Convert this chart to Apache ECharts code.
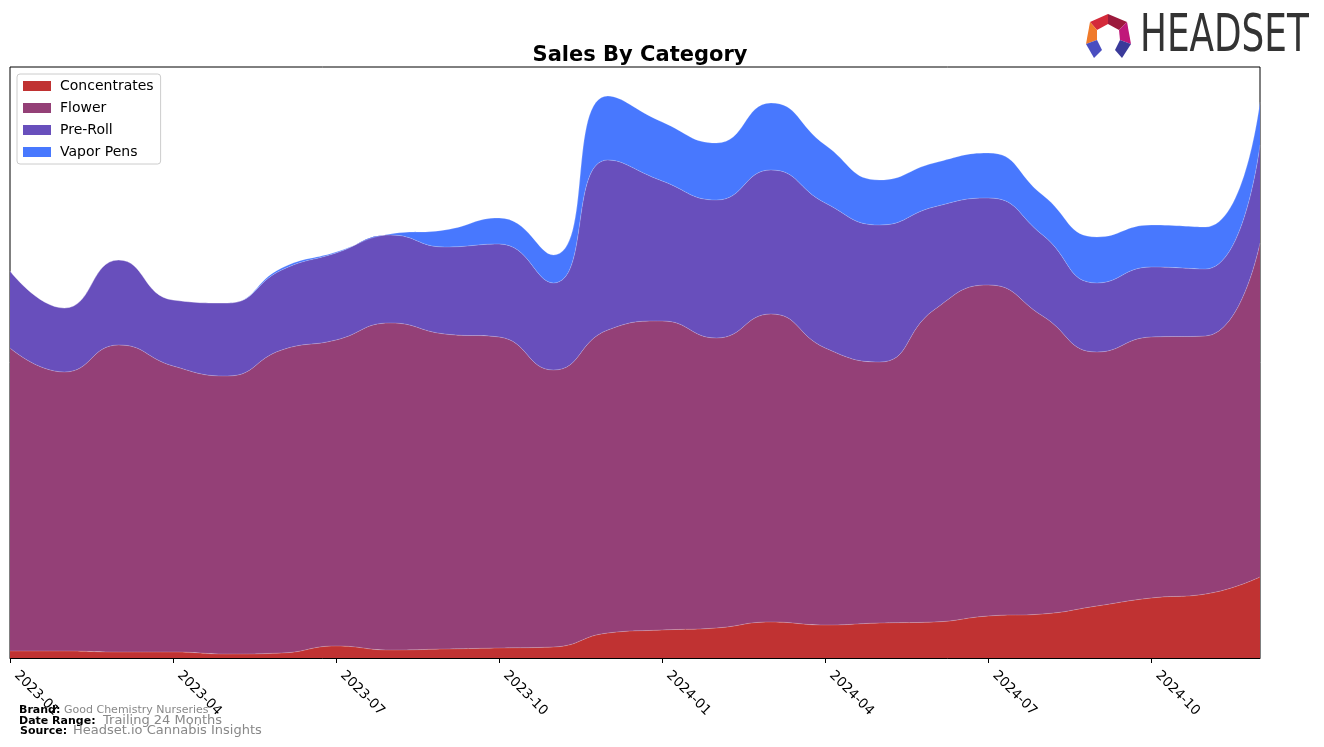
<!DOCTYPE html>
<html>
<head>
<meta charset="utf-8">
<script src="https://cdn.jsdelivr.net/npm/echarts@6/dist/echarts.min.js"></script>
<style>html,body{margin:0;padding:0;background:#fff;}#c{width:1324px;height:747px;}</style>
</head>
<body>
<div id="c"></div>
<script>
const months = ['2023-01','2023-02','2023-03','2023-04','2023-05','2023-06','2023-07','2023-08','2023-09','2023-10','2023-11','2023-12',
                '2024-01','2024-02','2024-03','2024-04','2024-05','2024-06','2024-07','2024-08','2024-09','2024-10','2024-11','2024-12'];
const concentrates = [7,7,6,6,4,5,12,8,9,10,11,25,28,30,36,33,35,36,42,44,52,60,64,81];
const flower       = [303,279,307,286,278,303,306,327,315,311,277,303,309,290,308,277,261,312,331,298,254,261,258,334];
const preRoll      = [77,64,85,66,73,80,87,88,87,93,87,170,140,138,144,145,137,103,87,81,69,70,67,98];
const vaporPens    = [0,0,0,0,0,2,1,1,17,26,28,64,59,57,67,58,45,44,45,40,46,42,42,43];
const seriesNames  = ['Concentrates','Flower','Pre-Roll','Vapor Pens'];
const seriesColors = ['#c03232','#944077','#684fbc','#4878fe'];
const tickStep = 3;

const chart = echarts.init(document.getElementById('c'), null, {renderer:'canvas'});
const allData = [concentrates, flower, preRoll, vaporPens];
const series = allData.map((arr, k) => ({
  name: seriesNames[k],
  type: 'line',
  stack: 'total',
  smooth: 0.5,
  showSymbol: false,
  symbol: 'none',
  lineStyle: {width: 0.8, color: 'rgba(255,255,255,0.25)'},
  itemStyle: {color: seriesColors[k]},
  areaStyle: {color: seriesColors[k], opacity: 1},
  data: arr
}));

const FONT = 'DejaVu Sans';
chart.setOption({
  animation: false,
  backgroundColor: '#fff',
  title: {
    text: 'Sales By Category', left: 635, top: 40, textAlign: 'center',
    textStyle: {fontFamily: FONT, fontSize: 21, fontWeight: 'bold', color: '#000'}
  },
  legend: {
    orient: 'vertical', left: 17, top: 74,
    data: seriesNames,
    icon: 'rect', itemWidth: 28, itemHeight: 10, itemGap: 8,
    padding: [5, 7, 5, 6],
    borderColor: '#cccccc', borderWidth: 1, borderRadius: 3,
    backgroundColor: 'rgba(255,255,255,0.8)',
    textStyle: {fontFamily: FONT, fontSize: 14, lineHeight: 13, color: '#000', padding: [0, 0, 0, 4]}
  },
  grid: {left: 10, right: 64, top: 67, bottom: 89, show: true, borderColor: '#000', borderWidth: 1, backgroundColor: '#fff'},
  xAxis: {
    type: 'category', boundaryGap: false, data: months,
    splitLine: {show: false},
    axisLine: {show: true, lineStyle: {color: '#000', width: 1}},
    axisTick: {show: true, length: 5, interval: tickStep - 1, lineStyle: {color: '#000'}},
    axisLabel: {
      rotate: -45, margin: 9, fontFamily: FONT, fontSize: 13.5, color: '#000',
      interval: tickStep - 1, padding: [0, 0, 0, 9]
    }
  },
  yAxis: {type: 'value', min: 0, max: 591, show: false},
  series: series,
  graphic: [
    {type: 'text', left: 19, top: 705, style: {text: 'Brand:', font: 'bold 11px "DejaVu Sans"', fill: '#000'}},
    {type: 'text', left: 64, top: 705, style: {text: 'Good Chemistry Nurseries', font: '11px "DejaVu Sans"', fill: '#888'}},
    {type: 'text', left: 19, top: 716, style: {text: 'Date Range:', font: 'bold 11px "DejaVu Sans"', fill: '#000'}},
    {type: 'text', left: 103, top: 714, style: {text: 'Trailing 24 Months', font: '13px "DejaVu Sans"', fill: '#888'}},
    {type: 'text', left: 20, top: 726, style: {text: 'Source:', font: 'bold 11px "DejaVu Sans"', fill: '#000'}},
    {type: 'text', left: 73, top: 724, style: {text: 'Headset.io Cannabis Insights', font: '13px "DejaVu Sans"', fill: '#888'}},
    {type: 'text', x: 1140, y: 12, scaleX: 0.78, style: {text: 'HEADSET', font: '51px "DejaVu Sans Condensed"', fill: '#333'}},
    {type: 'polygon', shape: {points: [[1090,22],[1108,14],[1108,24],[1097,30]]}, style: {fill: '#d42a3a'}},
    {type: 'polygon', shape: {points: [[1108,14],[1127,22],[1119,30],[1108,24]]}, style: {fill: '#9c1a3c'}},
    {type: 'polygon', shape: {points: [[1090,22],[1097,30],[1097,40],[1086,44]]}, style: {fill: '#f07a2a'}},
    {type: 'polygon', shape: {points: [[1127,22],[1131,44],[1120,40],[1119,30]]}, style: {fill: '#c0187a'}},
    {type: 'polygon', shape: {points: [[1086,44],[1097,40],[1102,50],[1094,58]]}, style: {fill: '#4a4ec0'}},
    {type: 'polygon', shape: {points: [[1131,44],[1120,40],[1115,50],[1122,58]]}, style: {fill: '#3a3a9a'}}
  ]
});
</script>
</body>
</html>
